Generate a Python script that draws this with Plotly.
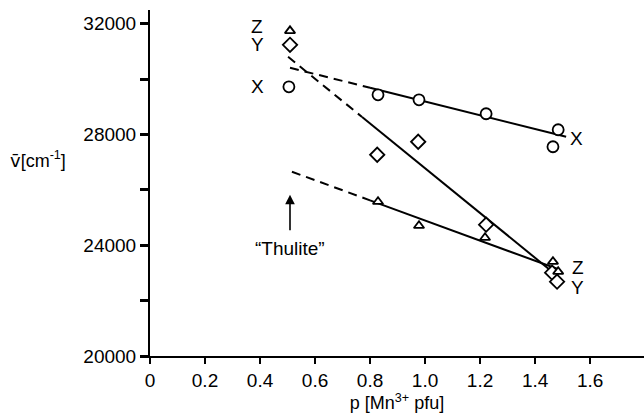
import plotly.graph_objects as go

# Mn3+ content (p, pfu) and band positions (wavenumber, cm^-1) for the three polarisations
p_x = [0.505, 0.829, 0.978, 1.222, 1.484, 1.465]
nu_x = [29726, 29437, 29256, 28751, 28173, 27560]

p_y = [0.509, 0.826, 0.975, 1.222, 1.462, 1.480]
nu_y = [31242, 27271, 27740, 24744, 23011, 22686]

p_z = [0.509, 0.829, 0.978, 1.218, 1.465, 1.484]
nu_z = [31747, 25574, 24708, 24274, 23408, 23047]

# Regression lines: extrapolated (dashed) part and fitted (solid) part
fit_x_dash_p = [0.509, 0.80]
fit_x_dash_nu = [30412, 29690]
fit_x_solid_p = [0.80, 1.513]
fit_x_solid_nu = [29690, 27920]

fit_y_dash_p = [0.502, 0.771]
fit_y_dash_nu = [30809, 28634]
fit_y_solid_p = [0.771, 1.480]
fit_y_solid_nu = [28634, 22900]

fit_z_dash_p = [0.516, 0.80]
fit_z_dash_nu = [26657, 25624]
fit_z_solid_p = [0.80, 1.480]
fit_z_solid_nu = [25624, 23150]

x_ticks = [0, 0.2, 0.4, 0.6, 0.8, 1.0, 1.2, 1.4, 1.6]
x_tick_text = ["0", "0.2", "0.4", "0.6", "0.8", "1.0", "1.2", "1.4", "1.6"]
y_ticks = [20000, 22000, 24000, 26000, 28000, 30000, 32000]
y_tick_text = ["20000", "", "24000", "", "28000", "", "32000"]

FONT = "Liberation Sans, Arial, sans-serif"
BLACK = "black"

fig = go.Figure()

def add_line(xs, ys, dash):
    fig.add_trace(go.Scatter(
        x=xs, y=ys, mode="lines",
        line=dict(color=BLACK, width=2, dash=dash),
        hoverinfo="skip", showlegend=False))

add_line(fit_x_dash_p, fit_x_dash_nu, "9px,6px")
add_line(fit_x_solid_p, fit_x_solid_nu, "solid")
add_line(fit_y_dash_p, fit_y_dash_nu, "9px,6px")
add_line(fit_y_solid_p, fit_y_solid_nu, "solid")
add_line(fit_z_dash_p, fit_z_dash_nu, "9px,6px")
add_line(fit_z_solid_p, fit_z_solid_nu, "solid")

def add_points(xs, ys, symbol, size):
    fig.add_trace(go.Scatter(
        x=xs, y=ys, mode="markers",
        marker=dict(symbol=symbol, size=size, color="white",
                    line=dict(color=BLACK, width=1.8)),
        showlegend=False))

add_points(p_x, nu_x, "circle", 11)
add_points(p_y, nu_y, "diamond", 11)
add_points(p_z, nu_z, "triangle-up", 9)

label_font = dict(family=FONT, size=19, color=BLACK)
labels = [
    ("Z", 0.389, 31890), ("Y", 0.389, 31242), ("X", 0.391, 29726),
    ("X", 1.552, 27848), ("Z", 1.555, 23191), ("Y", 1.555, 22469),
]
for txt, lx, ly in labels:
    fig.add_annotation(x=lx, y=ly, text=txt, showarrow=False,
                       font=label_font, xanchor="center", yanchor="middle")

# Arrow pointing at the "Thulite" composition
fig.add_annotation(x=0.509, y=25827, ax=0.509, ay=24491,
                   xref="x", yref="y", axref="x", ayref="y",
                   text="", showarrow=True, arrowhead=2, arrowsize=1.2,
                   arrowwidth=1.6, arrowcolor=BLACK)
fig.add_annotation(x=0.509, y=23880, text="\u201cThulite\u201d", showarrow=False,
                   font=dict(family=FONT, size=19, color=BLACK),
                   xanchor="center", yanchor="middle")

fig.update_layout(
    width=644, height=419,
    margin=dict(l=150, r=0, t=10, b=63),
    paper_bgcolor="white", plot_bgcolor="white",
    font=dict(family=FONT, size=18, color=BLACK),
    xaxis=dict(
        range=[0, 1.796], tickvals=x_ticks, ticktext=x_tick_text,
        ticks="outside", ticklen=6, tickwidth=1.8, tickcolor=BLACK,
        showline=True, linecolor=BLACK, linewidth=2, showgrid=False,
        zeroline=False, tickfont=dict(family=FONT, size=19),
        title=dict(text="p [Mn<sup>3+</sup> pfu]", standoff=4,
                   font=dict(family=FONT, size=18)),
    ),
    yaxis=dict(
        range=[20000, 32500], tickvals=y_ticks, ticktext=y_tick_text,
        ticks="outside", ticklen=8, tickwidth=2.5, tickcolor=BLACK,
        showline=True, linecolor=BLACK, linewidth=2, showgrid=False,
        zeroline=False, tickfont=dict(family=FONT, size=19),
    ),
)

# Wavenumber axis title, written horizontally left of the tick labels
fig.add_annotation(xref="paper", yref="paper",
                   x=(38 - 150) / 494, y=1 - (160 - 10) / 346,
                   text="<span style='font-family:DejaVu Sans'>v\u0304</span>[cm<sup>-1</sup>]",
                   showarrow=False,
                   font=dict(family=FONT, size=18, color=BLACK),
                   xanchor="center", yanchor="middle")

fig.write_html("out.html")
